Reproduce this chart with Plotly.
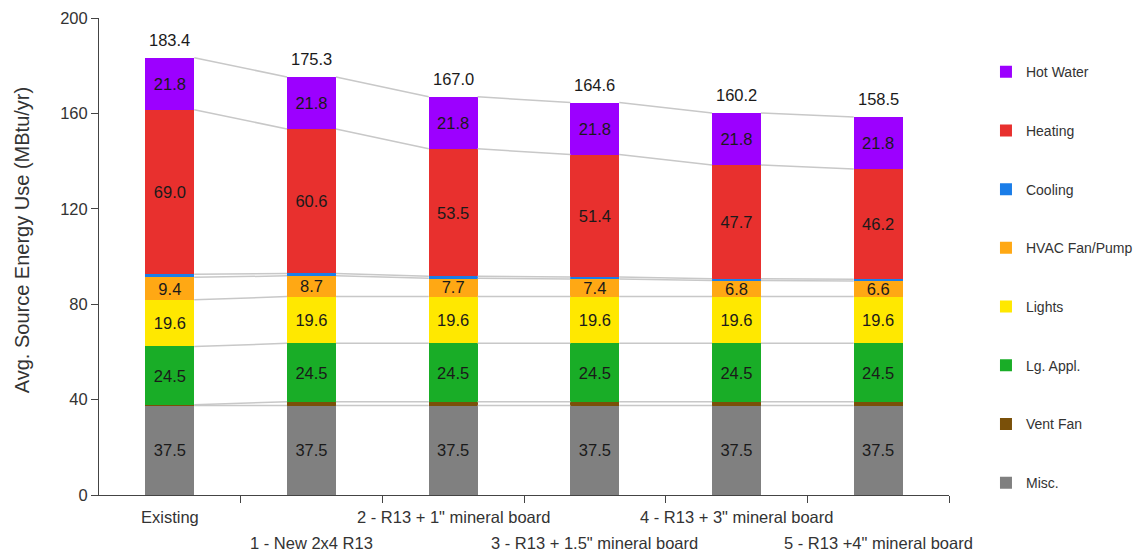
import plotly.graph_objects as go

categories = ['Existing', '1 - New 2x4 R13', '2 - R13 + 1" mineral board',
              '3 - R13 + 1.5" mineral board', '4 - R13 + 3" mineral board',
              '5 - R13 +4" mineral board']

# stacked from the bottom up
misc = [37.5, 37.5, 37.5, 37.5, 37.5, 37.5]
vent_fan = [0.3, 1.6, 1.6, 1.6, 1.6, 1.6]
lg_appl = [24.5, 24.5, 24.5, 24.5, 24.5, 24.5]
lights = [19.6, 19.6, 19.6, 19.6, 19.6, 19.6]
hvac_fan = [9.4, 8.7, 7.7, 7.4, 6.8, 6.6]
cooling = [1.3, 1.0, 0.8, 0.8, 0.7, 0.7]
heating = [69.0, 60.6, 53.5, 51.4, 47.7, 46.2]
hot_water = [21.8, 21.8, 21.8, 21.8, 21.8, 21.8]

series = [
    ('Misc.', misc, '#808080'),
    ('Vent Fan', vent_fan, '#7a5009'),
    ('Lg. Appl.', lg_appl, '#19ad27'),
    ('Lights', lights, '#ffe800'),
    ('HVAC Fan/Pump', hvac_fan, '#ffa814'),
    ('Cooling', cooling, '#1a7de8'),
    ('Heating', heating, '#e8302e'),
    ('Hot Water', hot_water, '#9c00ff'),
]

FONT = 'Liberation Sans, Arial, sans-serif'
TXT = '#1a1a1a'
BAR_W = 0.345
xs = list(range(len(categories)))

fig = go.Figure()

# connector lines between segment tops of neighbouring bars
cum = [0.0] * len(categories)
for name, vals, color in series:
    cum = [c + v for c, v in zip(cum, vals)]
    lx, ly = [], []
    for i in range(len(categories) - 1):
        lx += [i + BAR_W / 2, i + 1 - BAR_W / 2, None]
        ly += [cum[i], cum[i + 1], None]
    fig.add_trace(go.Scatter(x=lx, y=ly, mode='lines',
                             line=dict(color='#c8c8c8', width=1.5),
                             showlegend=False, hoverinfo='skip'))

for k, (name, vals, color) in enumerate(series):
    fig.add_trace(go.Bar(
        x=xs, y=vals, name=name, width=BAR_W, legendgroup=name,
        legendrank=100 - k,
        marker=dict(color=color, line=dict(width=0)),
        text=[f'{v:.1f}' if v >= 5 else '' for v in vals],
        textposition='inside', insidetextanchor='middle',
        constraintext='none', textangle=0,
        textfont=dict(color=TXT, size=16.5, family=FONT),
    ))

totals = [round(sum(s[1][i] for s in series), 1) for i in xs]
for i, t in enumerate(totals):
    fig.add_annotation(x=i, y=t, text=f'{t:.1f}', showarrow=False,
                       yanchor='bottom', yshift=7,
                       font=dict(size=16.5, color=TXT, family=FONT))

# category labels in two staggered rows
for i, c in enumerate(categories):
    fig.add_annotation(x=i, y=0, yref='paper', text=c, showarrow=False,
                       yanchor='top', yshift=-11 if i % 2 == 0 else -37,
                       font=dict(size=16.5, color='#333333', family=FONT))

# y axis title
fig.add_annotation(x=-0.0906, y=0.534, xref='paper', yref='paper',
                   text='Avg. Source Energy Use (MBtu/yr)', textangle=-90,
                   showarrow=False, xanchor='center', yanchor='middle',
                   font=dict(size=20, color='#333333', family=FONT))

# the page body has an 8px margin, so the margins are shifted by it
fig.update_layout(
    barmode='stack',
    width=1141, height=556,
    margin=dict(l=91, r=200, t=10, b=69),
    plot_bgcolor='white', paper_bgcolor='white',
    font=dict(family=FONT, size=16.5, color='#333333'),
    legend=dict(x=1.0435, xanchor='left', y=0.92, yanchor='top',
                traceorder='grouped', tracegroupgap=37.5,
                font=dict(size=14, color='#333333')),
)
fig.update_xaxes(range=[-0.5, 5.5], tickvals=[0.5, 1.5, 2.5, 3.5, 4.5, 5.5],
                 showticklabels=False, ticks='outside', ticklen=7,
                 tickcolor='#444444', showline=True, linecolor='#444444',
                 showgrid=False, zeroline=False, automargin=False)
fig.update_yaxes(range=[0, 200.05], tickvals=[0, 40, 80, 120, 160, 200],
                 ticks='outside', ticklen=7, tickcolor='#444444',
                 showline=True, linecolor='#444444', showgrid=False,
                 zeroline=False, tickfont=dict(size=16.5), automargin=False,
                 ticklabeloverflow='allow')

fig.write_html('out.html')
